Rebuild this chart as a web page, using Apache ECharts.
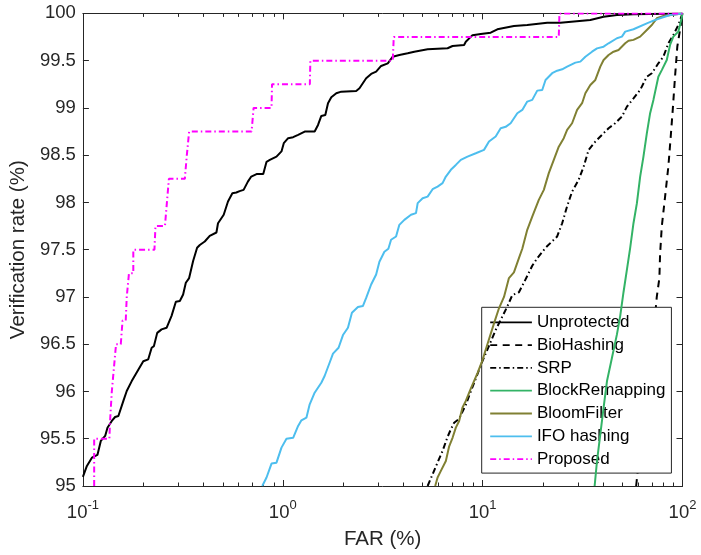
<!DOCTYPE html>
<html><head><meta charset="utf-8">
<script src="https://cdn.jsdelivr.net/npm/echarts@6/dist/echarts.min.js"></script>
<style>html,body{margin:0;padding:0;background:#fff}#c{width:701px;height:555px}</style>
</head><body><div id="c"></div>
<script>
// ---------- data ----------
const seriesNames = ['Unprotected','BioHashing','SRP','BlockRemapping','BloomFilter','IFO hashing','Proposed'];
const yTicks = [95,95.5,96,96.5,97,97.5,98,98.5,99,99.5,100];
const xDecades = [0.1,1,10,100];

const unprotectedFAR = [0.1000,0.1047,0.1109,0.1182,0.1229,0.1292,0.1327,0.1395,0.1449,0.1505,
 0.1594,0.1657,0.1755,0.1893,0.2005,0.2123,0.2208,0.2267,0.2354,0.2476,
 0.2622,0.2777,0.2918,0.3055,0.3173,0.3273,0.3400,0.3560,0.3727,0.3845,
 0.4071,0.4311,0.4656,0.4742,0.5064,0.5320,0.5595,0.5857,0.6083,0.6369,
 0.6690,0.6956,0.7392,0.7986,0.8294,0.8614,0.9302,0.9852,1.0116,1.0640,
 1.1269,1.1934,1.2876,1.4437,1.5012,1.5591,1.6325,1.6839,1.7490,1.8526,
 1.9620,2.330,2.420,2.614,2.768,2.932,3.105,3.353,3.551,3.831,
 4.218,4.550,5.306,6.677,7.071,8.078,8.237,8.897,9.785,10.97,
 11.85,14.34,16.72,21.04,24.51,34.58,40.29,46.98,56.85,100];
const unprotectedVR = [95.096,95.212,95.30,95.329,95.477,95.53,95.617,95.688,95.73,95.74,
 95.90,96.005,96.11,96.23,96.32,96.34,96.463,96.48,96.62,96.657,
 96.674,96.80,96.95,96.957,97.026,97.15,97.20,97.38,97.52,97.55,
 97.587,97.647,97.682,97.78,97.87,98.01,98.098,98.105,98.12,98.133,
 98.22,98.274,98.30,98.30,98.43,98.45,98.485,98.54,98.627,98.68,
 98.69,98.715,98.75,98.75,98.82,98.915,98.926,99.05,99.113,99.155,
 99.172,99.18,99.208,99.314,99.36,99.384,99.444,99.472,99.542,99.56,
 99.578,99.595,99.62,99.631,99.655,99.666,99.70,99.77,99.782,99.796,
 99.832,99.867,99.877,99.90,99.90,99.93,99.965,99.983,99.99,100];

const bioHashingFAR = [58.64,65.03,71.53,74.35,76.62,77.23,78.77,81.81,84.97,87.34,89.37,91.75,94.21,97.17,100];
const bioHashingVR  = [95.0,95.95,96.6,97.0,97.2,97.45,97.745,98.06,98.38,98.70,98.98,99.33,99.65,99.825,100];

const srpFAR = [5.306,5.619,5.951,6.302,6.677,6.934,7.202,7.627,8.237,8.725,9.977,11.62,13.29,14.08,15.19,16.08,17.71,18.76,20.64,
 23.60,25.00,26.47,28.03,30.24,32.03,33.91,36.63,39.56,42.67,46.07,49.76,52.71,56.85,61.40,66.30,70.23,75.72,80.23,84.97,89.99,95.30,100];
const srpVR = [95.0,95.124,95.25,95.37,95.52,95.60,95.67,95.71,95.86,96.0,96.32,96.65,96.90,97.02,97.05,97.15,97.33,97.41,97.52,
 97.64,97.78,97.96,98.115,98.24,98.38,98.556,98.644,98.715,98.785,98.838,98.908,99.014,99.10,99.19,99.33,99.367,99.472,99.542,99.684,99.77,99.877,100];

const blockRemapFAR = [36.34,37.35,38.79,40.29,41.90,44.37,46.98,48.80,50.68,52.71,54.73,56.85,59.11,61.40,63.77,66.30,68.87,71.53,75.72,78.77,83.43,86.64,89.99,95.30,99.08,100];
const blockRemapVR  = [95.0,95.265,95.546,95.83,96.11,96.357,96.604,96.80,97.05,97.29,97.52,97.78,97.99,98.274,98.485,98.73,98.944,99.085,99.33,99.40,99.507,99.666,99.754,99.807,99.95,100];

const bloomFAR = [5.790,5.951,6.180,6.546,6.800,7.071,7.343,7.627,7.930,8.237,8.725,9.424,9.977,10.566,11.40,12.07,12.79,13.54,14.34,15.19,15.79,
 16.72,17.71,19.10,20.24,21.43,22.70,24.04,25.46,26.47,28.03,29.69,31.45,32.66,34.58,36.63,38.79,40.29,42.67,45.19,47.86,51.68,53.69,56.85,61.40,66.30,70.23,74.35,80.23,100];
const bloomVR = [95.0,95.09,95.16,95.265,95.42,95.51,95.617,95.688,95.83,95.90,96.03,96.195,96.33,96.50,96.72,96.88,97.0,97.2,97.26,97.41,97.51,
 97.71,97.85,98.027,98.133,98.31,98.45,98.59,98.68,98.767,98.838,98.979,99.05,99.155,99.243,99.296,99.437,99.507,99.56,99.595,99.613,99.684,99.71,99.72,99.754,99.825,99.877,99.948,99.972,100];

const ifoFAR = [0.7895,0.8294,0.8784,0.9302,0.9852,1.0434,1.1269,1.1934,1.2398,1.3130,1.3636,1.4437,1.5591,1.6194,1.7152,1.7835,1.9019,2.0007,2.1188,2.2183,
 2.3767,2.5164,2.614,2.768,2.932,3.0447,3.2245,3.3759,3.4822,3.6881,3.831,4.0568,4.3807,4.6405,4.7320,5.0107,5.306,5.619,5.951,6.302,
 6.546,6.934,7.343,7.777,8.400,9.239,10.16,10.76,11.62,12.31,13.04,13.81,14.91,15.79,16.72,17.71,18.76,19.87,20.64,22.28,
 23.60,25.00,26.47,29.12,30.83,32.66,35.27,37.35,40.29,42.67,46.98,49.76,51.68,56.85,66.30,71.53,77.23,86.64,100];
const ifoVR = [95.0,95.09,95.237,95.247,95.406,95.50,95.51,95.635,95.695,95.723,95.864,95.987,96.093,96.164,96.304,96.40,96.463,96.597,96.674,96.833,
 96.893,96.904,96.99,97.132,97.238,97.372,97.478,97.51,97.605,97.64,97.763,97.816,97.87,97.887,97.993,98.045,98.062,98.14,98.168,98.204,
 98.274,98.345,98.397,98.45,98.485,98.52,98.556,98.644,98.697,98.785,98.80,98.838,98.944,98.979,99.067,99.085,99.183,99.19,99.296,99.367,
 99.394,99.409,99.437,99.479,99.49,99.542,99.595,99.63,99.648,99.684,99.737,99.754,99.807,99.832,99.895,99.923,99.948,99.983,100];

const proposedFAR = [0.11385,0.11385,0.1357,0.1365,0.1395,0.1465,0.1547,0.1579,0.1638,0.1657,0.1672,0.1700,0.1787,0.1787,0.2280,0.2307,0.2573,0.2693,0.3236,0.3311,0.3400,
 0.6982,0.7145,0.8784,0.8835,1.366,1.374,3.551,3.592,24.04,24.23,100];
const proposedVR = [95.0,95.5,95.5,95.66,96.0,96.5,96.5,96.75,96.75,97.0,97.0,97.25,97.25,97.5,97.5,97.75,97.75,98.25,98.25,98.5,98.75,
 98.75,99.0,99.0,99.25,99.25,99.5,99.5,99.75,99.75,100,100];

// ---------- styling ----------
const AX = '#262626';
const FONT = '"Liberation Sans", Arial, Helvetica, sans-serif';
const zip = (a, b) => a.map((v, i) => [v, b[i]]);
const seriesData = [
  zip(unprotectedFAR, unprotectedVR), zip(bioHashingFAR, bioHashingVR), zip(srpFAR, srpVR),
  zip(blockRemapFAR, blockRemapVR), zip(bloomFAR, bloomVR), zip(ifoFAR, ifoVR), zip(proposedFAR, proposedVR)
];
const styles = [
  {color:'#000000', type:'solid'},
  {color:'#000000', type:[7,5.5]},
  {color:'#000000', type:[6,3,1.5,3]},
  {color:'#33b366', type:'solid'},
  {color:'#808033', type:'solid'},
  {color:'#4dbeee', type:'solid'},
  {color:'#ff00ff', type:[6,3,1.5,3]}
];

// minor tick values of the log axis (2..9 in each decade)
const minorVals = [];
for (let d = 0; d < xDecades.length - 1; d++) for (let k = 2; k <= 9; k++) minorVals.push(+(k * xDecades[d]).toPrecision(3));

const chart = echarts.init(document.getElementById('c'), null, {renderer:'canvas'});
chart.setOption({
  animation:false,
  backgroundColor:'#fff',
  textStyle:{fontFamily:FONT},
  grid:{left:80.7, top:13.4, right:18.5, bottom:68.6},
  xAxis:[
    {type:'log', logBase:10, min:xDecades[0], max:xDecades[xDecades.length-1], position:'bottom',
     axisLine:{onZero:false, lineStyle:{color:AX, width:1}},
     axisTick:{inside:true, length:6, lineStyle:{color:AX}},
     splitLine:{show:false},
     axisLabel:{margin:13, color:AX,
       formatter: v => '{b|10}{s|' + Math.round(Math.log10(v)) + '}',
       rich:{ b:{fontSize:18.5, lineHeight:28, color:AX, fontFamily:FONT},
              s:{fontSize:13, lineHeight:14, verticalAlign:'top', color:AX, fontFamily:FONT} } },
     name:'FAR (%)', nameLocation:'middle', nameGap:43,
     nameTextStyle:{fontSize:20.5, color:AX, fontFamily:FONT}},
    {type:'log', logBase:10, min:xDecades[0], max:xDecades[xDecades.length-1], position:'top',
     axisLine:{onZero:false, lineStyle:{color:AX, width:1}},
     axisTick:{inside:true, length:6, lineStyle:{color:AX}},
     axisLabel:{show:false}, splitLine:{show:false}}
  ],
  yAxis:[
    {type:'value', min:yTicks[0], max:yTicks[yTicks.length-1], interval:0.5, position:'left',
     axisLine:{show:true, onZero:false, lineStyle:{color:AX, width:1}},
     axisTick:{show:true, inside:true, length:6, lineStyle:{color:AX}},
     splitLine:{show:false},
     axisLabel:{margin:7, fontSize:18.5, color:AX, fontFamily:FONT},
     name:'Verification rate (%)', nameLocation:'middle', nameGap:49,
     nameTextStyle:{fontSize:20.5, color:AX, fontFamily:FONT}},
    {type:'value', min:yTicks[0], max:yTicks[yTicks.length-1], interval:0.5, position:'right',
     axisLine:{show:true, onZero:false, lineStyle:{color:AX, width:1}},
     axisTick:{show:true, inside:true, length:6, lineStyle:{color:AX}},
     splitLine:{show:false}, axisLabel:{show:false}}
  ],
  legend:{
    orient:'vertical', left:481.7, top:307.3,
    padding:[5,6,4,7.6], itemGap:2.8, itemWidth:41.7, itemHeight:14,
    backgroundColor:'#ffffff', borderColor:AX, borderWidth:1, borderRadius:0,
    textStyle:{fontSize:17, lineHeight:20, color:'#000', fontFamily:FONT},
    itemStyle:{color:'rgba(0,0,0,0)', borderWidth:0, opacity:0},
    lineStyle:{width:1.8},
    data: seriesNames
  },
  series: seriesNames.map((n, i) => ({
    name:n, type:'line', xAxisIndex:0, yAxisIndex:0,
    data: seriesData[i], symbol:'none', showSymbol:false, smooth:false,
    lineStyle:{color:styles[i].color, width:2, type:styles[i].type},
    itemStyle:{color:styles[i].color},
    emphasis:{disabled:true}, z: 2 + i
  }))
});

// minor ticks of the log axes (bottom and top), placed through the axis scale
const yb = chart.convertToPixel({yAxisIndex:0}, yTicks[0]);
const yt = chart.convertToPixel({yAxisIndex:0}, yTicks[yTicks.length-1]);
const tickEls = [];
minorVals.forEach(v => {
  const x = Math.round(chart.convertToPixel({xAxisIndex:0}, v)) + 0.5;
  tickEls.push({type:'line', silent:true, z:5, shape:{x1:x, y1:yb, x2:x, y2:yb - 3.5}, style:{stroke:AX, lineWidth:1}});
  tickEls.push({type:'line', silent:true, z:5, shape:{x1:x, y1:yt, x2:x, y2:yt + 3.5}, style:{stroke:AX, lineWidth:1}});
});
chart.setOption({graphic:{elements:tickEls}});
</script>
</body></html>
